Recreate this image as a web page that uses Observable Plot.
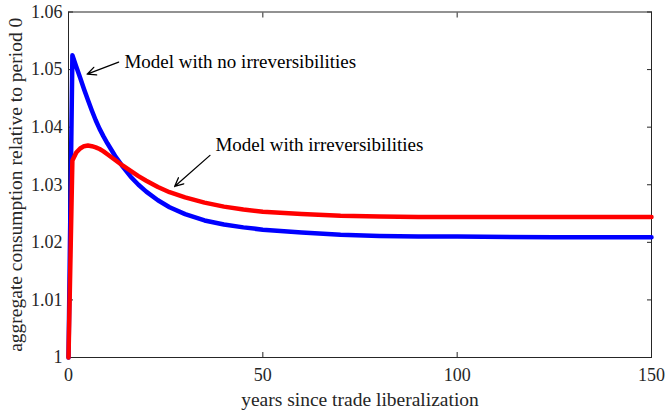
<!DOCTYPE html>
<html>
<head>
<meta charset="utf-8">
<script src="https://cdn.jsdelivr.net/npm/d3@7"></script>
<script src="https://cdn.jsdelivr.net/npm/@observablehq/plot@0.6"></script>
<style>
  html, body { margin: 0; padding: 0; background: #fff; }
</style>
</head>
<body>
<div id="chart"></div>
<script>
// Years after the liberalization at which consumption is reported
const years = [0, 1, 2, 3, 4, 5, 6, 7, 8, 9, 10, 12, 14, 16, 18, 20, 23, 26, 30, 35, 40, 45, 50, 60, 70, 80, 90, 100, 125, 150];

// Aggregate consumption relative to period 0
const noIrreversibilities = [1.0000, 1.0525, 1.0505, 1.0486, 1.0466, 1.0447, 1.0429, 1.0412, 1.0397, 1.0384, 1.0372, 1.0350, 1.0331, 1.0314, 1.0300, 1.0288, 1.0273, 1.0261, 1.0249, 1.0238, 1.0231, 1.0226, 1.0222, 1.0217, 1.0213, 1.0211, 1.0210, 1.0210, 1.0209, 1.0209];
const withIrreversibilities = [1.0000, 1.0342, 1.0356, 1.0363, 1.0367, 1.0368, 1.0367, 1.0365, 1.0362, 1.0358, 1.0353, 1.0343, 1.0333, 1.0324, 1.0315, 1.0307, 1.0296, 1.0287, 1.0278, 1.0269, 1.0262, 1.0257, 1.0253, 1.0249, 1.0246, 1.0245, 1.0244, 1.0244, 1.0244, 1.0244];

// Axis ticks and labels
const xTicks = [0, 50, 100, 150];
const xTickLabels = ["0", "50", "100", "150"];
const yTicks = [1, 1.01, 1.02, 1.03, 1.04, 1.05, 1.06];
const yTickLabels = ["1", "1.01", "1.02", "1.03", "1.04", "1.05", "1.06"];
const xLabel = "years since trade liberalization";
const yLabel = "aggregate consumption relative to period 0";

// Callouts: text anchor and arrow from (x1, y1) to the curve at (x2, y2)
const callouts = [
  {label: "Model with no irreversibilities", x: 14.4, y: 1.0514, x1: 12.9, y1: 1.0513, x2: 4.8, y2: 1.0492},
  {label: "Model with irreversibilities", x: 37.8, y: 1.0369, x1: 36.4, y1: 1.0351, x2: 27.3, y2: 1.0297}
];

const blueRows = years.map((t, i) => ({t, c: noIrreversibilities[i]}));
const redRows = years.map((t, i) => ({t, c: withIrreversibilities[i]}));

const fmtX = d => xTickLabels[xTicks.indexOf(d)];
const fmtY = d => yTickLabels[yTicks.indexOf(d)];

const chart = Plot.plot({
  width: 666,
  height: 414,
  marginLeft: 68,
  marginRight: 15,
  marginTop: 11.5,
  marginBottom: 57,
  style: {
    fontFamily: "'Liberation Serif', 'DejaVu Serif', serif",
    fontSize: "18px",
    color: "#262626",
    background: "#fff"
  },
  x: {domain: [0, 150]},
  y: {domain: [1, 1.06]},
  marks: [
    Plot.frame({stroke: "#262626", strokeWidth: 1}),
    Plot.axisX({ticks: xTicks, tickFormat: fmtX, tickSize: -5, tickPadding: 16, label: null}),
    Plot.axisY({ticks: yTicks, tickFormat: fmtY, tickSize: -5, tickPadding: 11, label: null}),
    Plot.axisX({anchor: "top", ticks: xTicks, tickSize: -5, fill: "none", label: null}),
    Plot.axisY({anchor: "right", ticks: yTicks, tickSize: -5, fill: "none", label: null}),
    Plot.text([xLabel], {frameAnchor: "bottom", textAnchor: "middle", lineAnchor: "middle", dy: 42, fontSize: 19.5, fill: "#262626"}),
    Plot.text([yLabel], {frameAnchor: "left", textAnchor: "middle", lineAnchor: "middle", dx: -53, rotate: -90, fontSize: 19.5, fill: "#262626"}),
    Plot.line(blueRows, {x: "t", y: "c", stroke: "#0000ff", strokeWidth: 4.5, strokeLinejoin: "round"}),
    Plot.line(redRows, {x: "t", y: "c", stroke: "#ff0000", strokeWidth: 4.5, strokeLinejoin: "round"}),
    Plot.arrow(callouts, {x1: "x1", y1: "y1", x2: "x2", y2: "y2", stroke: "#000", strokeWidth: 1.3, headLength: 11, headAngle: 50}),
    Plot.text(callouts, {x: "x", y: "y", text: "label", textAnchor: "start", lineAnchor: "middle", fontSize: 19, fill: "#000"})
  ]
});

document.getElementById("chart").appendChild(chart);
</script>
</body>
</html>
